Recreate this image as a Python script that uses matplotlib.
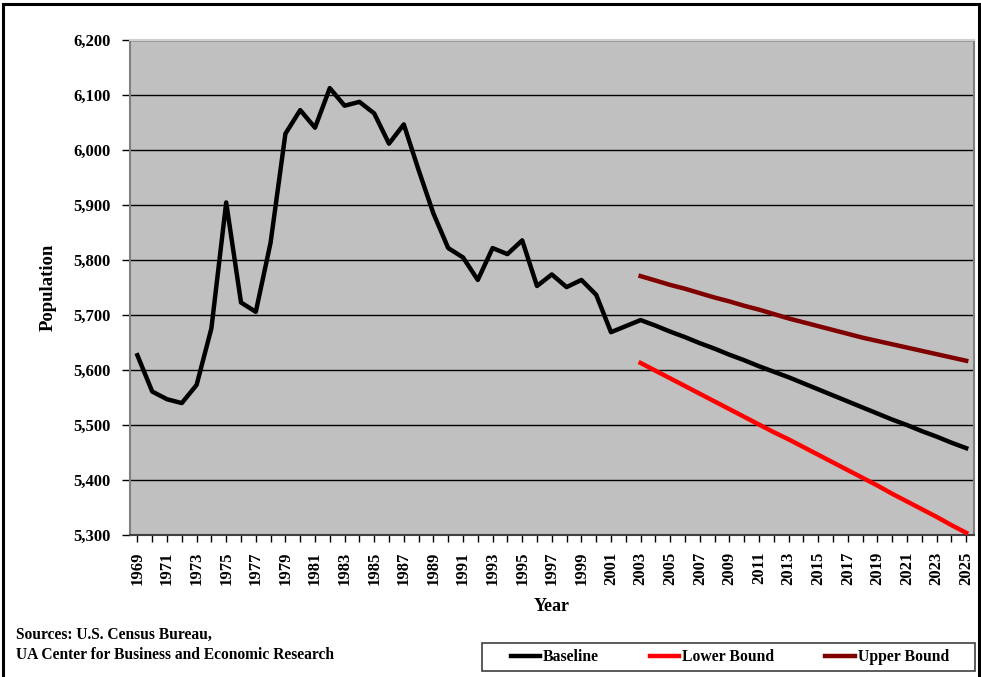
# plot.py - county population, history and projection to 2025

import numpy as np
import matplotlib
matplotlib.use("Agg")
import matplotlib.pyplot as plt
from matplotlib.patches import Rectangle

# Data
years = list(range(1969, 2026))

baseline_hist = [5627, 5561, 5547, 5540, 5573, 5676, 5905, 5723, 5706, 5832,
                 6030, 6073, 6041, 6113, 6081, 6088, 6067, 6012, 6047, 5964,
                 5885, 5822, 5805, 5764, 5822, 5811, 5836, 5753, 5774, 5751,
                 5764, 5737, 5669, 5680]
baseline_proj = [5691, 5681, 5670, 5660, 5649, 5639, 5628, 5618, 5607, 5597,
                 5587, 5576, 5565, 5554, 5543, 5532, 5521, 5510, 5500, 5489,
                 5479, 5468, 5458]
lower_bound = [5613, 5599, 5585, 5571, 5557, 5543, 5529, 5515, 5501, 5487,
               5474, 5460, 5446, 5432, 5418, 5404, 5390, 5375, 5361, 5347,
               5333, 5318, 5304]
upper_bound = [5771, 5763, 5755, 5748, 5740, 5732, 5725, 5717, 5710, 5702,
               5694, 5687, 5680, 5673, 5666, 5659, 5653, 5647, 5641, 5635,
               5629, 5623, 5617]
proj_start = 2003

plt.rcParams['font.family'] = ['Liberation Serif', 'DejaVu Serif']
plt.rcParams['font.weight'] = 'bold'

W, H = 981, 677
fig = plt.figure(figsize=(W / 100, H / 100), dpi=100)
ax = fig.add_axes([130 / W, 1 - 535 / H, (973.6 - 130) / W, (535 - 40.3) / H])

# category positions
pos = np.arange(len(years))
baseline = baseline_hist + baseline_proj
ppos = pos[years.index(proj_start):]

ax.plot(pos, baseline, color='black', lw=3.2, label='Baseline', zorder=3)
ax.plot(ppos, lower_bound, color='#FF0000', lw=3.2, label='Lower Bound', zorder=3)
ax.plot(ppos, upper_bound, color='#800000', lw=3.2, label='Upper Bound', zorder=3)

ax.set_facecolor('#C0C0C0')
ax.set_xlim(-0.5, len(years) - 0.5)
ax.set_ylim(5300, 6200)
ax.set_yticks(np.arange(5300, 6201, 100))
ax.set_yticklabels(['{:,}'.format(v) for v in range(5300, 6201, 100)])
ax.yaxis.grid(True, color='black', lw=1)
ax.set_axisbelow(True)

ax.set_xticks(pos)
ax.set_xticklabels([str(y) if (y - 1969) % 2 == 0 else '' for y in years],
                   rotation=90, fontsize=12)
ax.tick_params(axis='y', labelsize=12, length=6, width=1, direction='out', pad=8)
ax.tick_params(axis='x', length=5, width=1, direction='out', pad=7)

for s in ['left', 'top', 'right']:
    ax.spines[s].set_color('#808080')
    ax.spines[s].set_linewidth(1.5)
ax.spines['top'].set_color('#D0D0D0')
ax.spines['bottom'].set_color('#404040')
ax.spines['bottom'].set_linewidth(1.5)

ax.set_ylabel('Population', fontsize=13.5, fontweight='bold', labelpad=12)
ax.set_xlabel('Year', fontsize=13, fontweight='bold', labelpad=9)

# sources
fig.text(16 / W, 1 - 635 / H, 'Sources: U.S. Census Bureau,',
         fontsize=11.2, fontweight='bold', va='center', ha='left')
fig.text(16 / W, 1 - 655 / H, 'UA Center for Business and Economic Research',
         fontsize=11.2, fontweight='bold', va='center', ha='left')

leg = fig.legend(loc='center left', bbox_to_anchor=(511 / W, 1 - 657 / H), ncol=3, fontsize=11.3,
                 frameon=False, handlelength=1.85, handletextpad=0.2, columnspacing=3.25,
                 borderpad=0, borderaxespad=0)

# legend frame and outer frame
fig.patches.append(Rectangle((482 / W, 1 - 671 / H), (975 - 482) / W, 28 / H,
                             transform=fig.transFigure, fill=False, edgecolor='#404040', lw=1.2))
fig.patches.append(Rectangle((0.0035, -0.01), 0.9945, 1.004, transform=fig.transFigure,
                             fill=False, edgecolor='black', lw=2.2))

fig.savefig('out.png', dpi=100)
